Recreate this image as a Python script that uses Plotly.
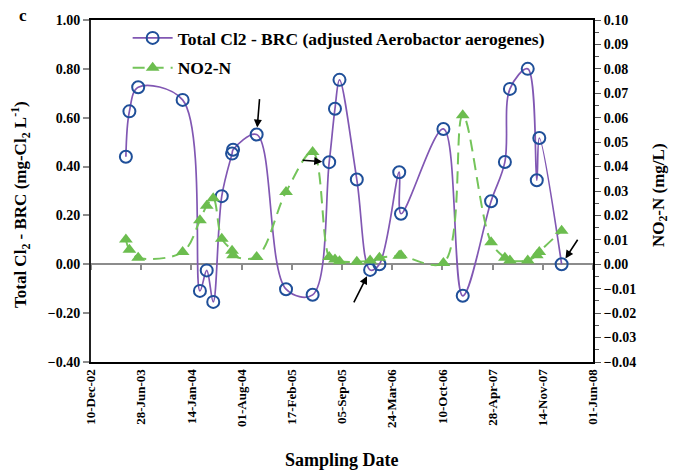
import plotly.graph_objects as go

# Sampling dates shared by both series
sample_dates = [
    "2003-04-28", "2003-05-12", "2003-06-16", "2003-12-10", "2004-02-17",
    "2004-03-15", "2004-04-10", "2004-05-14", "2004-06-24", "2004-06-28",
    "2004-09-30", "2005-01-25", "2005-05-11", "2005-07-16", "2005-08-08",
    "2005-08-26", "2005-11-03", "2005-12-26", "2006-02-01", "2006-04-21",
    "2006-04-28", "2006-10-14", "2006-12-30", "2007-04-22", "2007-06-16",
    "2007-07-06", "2007-09-15", "2007-10-21", "2007-10-31", "2008-01-28",
]

# Total Cl2 - BRC (mg-Cl2/L), left axis
total_cl2 = [
    0.44, 0.626, 0.725, 0.673, -0.109,
    -0.025, -0.154, 0.279, 0.453, 0.469,
    0.531, -0.102, -0.125, 0.418, 0.637,
    0.755, 0.347, -0.023, 0.0, 0.377,
    0.207, 0.554, -0.129, 0.258, 0.419,
    0.718, 0.80, 0.344, 0.517, 0.0,
]

# NO2-N (mg/L), right axis
no2_n = [
    0.0101, 0.006, 0.0027, 0.005, 0.018,
    0.024, 0.027, 0.0105, 0.0055, 0.0037,
    0.003, 0.0296, 0.046, 0.003, 0.002,
    0.0012, 0.001, 0.0016, 0.0027, 0.0035,
    0.0037, 0.0005, 0.061, 0.009, 0.0027,
    0.0016, 0.0016, 0.0037, 0.005, 0.0137,
]

# Arrow call-outs: (index into the series, tail offset x, tail offset y in px)
callouts = [(10, 3, -37), (13, -28, -2), (17, -17, 34), (29, 17, -26)]

x_start, x_end = "2002-12-10", "2008-06-01"
tick_step_ms = 200 * 86400000
serif = "Liberation Serif, Times New Roman, Times, serif"

fig = go.Figure()

fig.add_trace(go.Scatter(
    x=sample_dates, y=total_cl2, xaxis="x", yaxis="y",
    name="Total Cl2 - BRC (adjusted Aerobactor aerogenes)",
    legendgroup="a",
    mode="lines+markers",
    line=dict(color="#8157b3", width=1.7, shape="spline", smoothing=1.0),
    marker=dict(symbol="circle-open", size=12, color="#1f4f99", line=dict(width=2)),
))

fig.add_trace(go.Scatter(
    x=sample_dates, y=no2_n, xaxis="x2", yaxis="y2",
    name="NO2-N",
    legendgroup="b",
    mode="lines+markers",
    line=dict(color="#74c45a", width=2, dash="12px,7px", shape="spline", smoothing=1.0),
    marker=dict(symbol="triangle-up", size=12, color="#6cbd4f"),
))

axis_font = dict(family=serif, size=14, color="black", weight="bold")
xtick_font = dict(family=serif, size=13, color="black", weight="bold")

fig.update_layout(
    width=678, height=471,
    margin=dict(l=91, r=85, t=20, b=109),
    paper_bgcolor="white", plot_bgcolor="white",
    font=dict(family=serif, color="black", weight="bold"),
    showlegend=True,
    legend=dict(
        x=0.073, y=1.0, xanchor="left", yanchor="top",
        bgcolor="rgba(0,0,0,0)", font=dict(family=serif, size=17.5, weight="bold"),
        tracegroupgap=4, itemwidth=40,
    ),
    xaxis=dict(
        type="date", range=[x_start, x_end],
        tick0=x_start, dtick=tick_step_ms, tickformat="%d-%b-%y",
        tickangle=-90, tickfont=xtick_font,
        showline=True, linecolor="black", linewidth=2, mirror=True,
        ticks="", showgrid=False, zeroline=False,
    ),
    xaxis2=dict(
        type="date", range=[x_start, x_end], overlaying="x",
        anchor="free", position=0.4 / 1.4,
        tick0=x_start, dtick=tick_step_ms,
        showticklabels=False, ticks="outside", ticklen=5, tickwidth=2,
        tickcolor="#8c8c8c", showline=True, linecolor="#8c8c8c", linewidth=2,
        showgrid=False, zeroline=False, layer="below traces",
    ),
    yaxis=dict(
        range=[-0.4, 1.0], dtick=0.2, tickformat=".2f", tickfont=axis_font,
        showline=True, linecolor="#222222", linewidth=2,
        ticks="outside", ticklen=6, tickwidth=2, tickcolor="#8c8c8c",
        showgrid=False, zeroline=False,
    ),
    yaxis2=dict(
        range=[-0.04, 0.10], dtick=0.01, tickformat=".2f", tickfont=axis_font,
        overlaying="y", side="right", anchor="x",
        showline=True, linecolor="black", linewidth=2,
        ticks="outside", ticklen=6, tickwidth=1, tickcolor="#555555",
        minor=dict(dtick=0.005, ticks="outside", ticklen=4, tickcolor="#555555"),
        showgrid=False, zeroline=False,
    ),
)

# Axis titles and panel letter
fig.add_annotation(
    text="Total Cl<sub>2</sub> - BRC (mg-Cl<sub>2</sub> L<sup>-1</sup>)",
    xref="paper", yref="paper", x=-0.1414, y=0.459, textangle=-90,
    xanchor="center", yanchor="middle",
    showarrow=False, font=dict(family=serif, size=17, weight="bold"),
)
fig.add_annotation(
    text="NO<sub>2</sub>-N (mg/L)",
    xref="paper", yref="paper", x=1.1335, y=0.488, textangle=-90,
    xanchor="center", yanchor="middle",
    showarrow=False, font=dict(family=serif, size=17, weight="bold"),
)
fig.add_annotation(
    text="Sampling Date",
    xref="paper", yref="paper", x=0.5, y=-0.2865,
    xanchor="center", yanchor="middle",
    showarrow=False, font=dict(family=serif, size=18, weight="bold"),
)
fig.add_annotation(
    text="c", xref="paper", yref="paper", x=-0.1355, y=1.0146,
    xanchor="center", yanchor="middle",
    showarrow=False, font=dict(family=serif, size=17, weight="bold"),
)

# Black arrows pointing at selected samples
for idx, dx, dy in callouts:
    fig.add_annotation(
        x=sample_dates[idx], y=total_cl2[idx], xref="x", yref="y",
        ax=dx, ay=dy, text="", showarrow=True,
        arrowhead=2, arrowsize=1, arrowwidth=1.6, arrowcolor="black", standoff=7,
    )

fig.write_html("out.html")
